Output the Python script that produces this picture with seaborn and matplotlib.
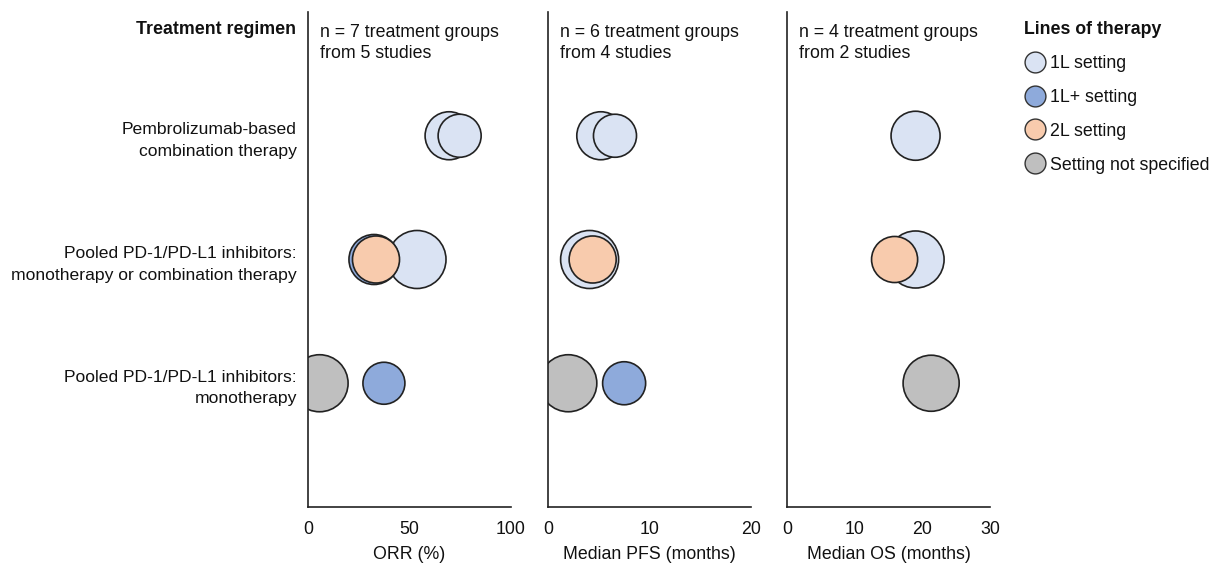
# Bubble chart: ORR, median PFS and median OS by treatment regimen,
# coloured by line of therapy, bubble area ~ group size.

import pandas as pd
import matplotlib.pyplot as plt
import seaborn as sns
from matplotlib.lines import Line2D

# data
# ---

regimens = [
    "Pembrolizumab-based\ncombination therapy",
    "Pooled PD-1/PD-L1 inhibitors:\nmonotherapy or combination therapy",
    "Pooled PD-1/PD-L1 inhibitors:\nmonotherapy",
]
settings = ["1L setting", "1L+ setting", "2L setting", "Setting not specified"]

# ORR (%) panel, listed in drawing order (later points sit on top)
orr_row = [0, 0, 1, 1, 1, 2, 2]
orr_setting = ["1L setting", "1L setting", "1L setting", "1L+ setting",
               "2L setting", "Setting not specified", "1L+ setting"]
orr_value = [69.5, 74.7, 53.7, 32.5, 33.5, 5.7, 37.4]
orr_patients = [230, 185, 336, 250, 221, 325, 176]

# median PFS (months) panel
pfs_row = [0, 0, 1, 1, 2, 2]
pfs_setting = ["1L setting", "1L setting", "1L setting", "2L setting",
               "Setting not specified", "1L+ setting"]
pfs_value = [5.2, 6.6, 4.1, 4.4, 2.0, 7.5]
pfs_patients = [230, 185, 336, 221, 325, 185]

# median OS (months) panel
os_row = [0, 1, 1, 2]
os_setting = ["1L setting", "1L setting", "2L setting", "Setting not specified"]
os_value = [19.0, 19.0, 15.9, 21.3]
os_patients = [240, 325, 212, 314]

panels = [
    (orr_row, orr_setting, orr_value, orr_patients, "ORR (%)", 100, [0, 50, 100],
     "n = 7 treatment groups\nfrom 5 studies"),
    (pfs_row, pfs_setting, pfs_value, pfs_patients, "Median PFS (months)", 20, [0, 10, 20],
     "n = 6 treatment groups\nfrom 4 studies"),
    (os_row, os_setting, os_value, os_patients, "Median OS (months)", 30, [0, 10, 20, 30],
     "n = 4 treatment groups\nfrom 2 studies"),
]

palette = {
    "1L setting": "#dae3f3",
    "1L+ setting": "#8eaadb",
    "2L setting": "#f8cbad",
    "Setting not specified": "#bfbfbf",
}
edge = "#222222"


# plot
# ---

sns.set_style("white")
plt.rcParams["font.family"] = ["Liberation Sans", "DejaVu Sans"]
plt.rcParams["text.color"] = "#111111"
plt.rcParams["axes.labelcolor"] = "#111111"
plt.rcParams["xtick.color"] = "#111111"
plt.rcParams["ytick.color"] = "#111111"
fs = 12.8

fig = plt.figure(figsize=(12.12, 5.63), dpi=100)

lefts = [308, 548, 787]
bottom, top = 507, 12
max_patients = 336
max_area = (58 * 0.72) ** 2

for i, (rows, sets, vals, pats, xlabel, xmax, xticks, note) in enumerate(panels):
    ax = fig.add_axes([lefts[i] / 1212, 1 - bottom / 563, 203 / 1212, (bottom - top) / 563])
    df = pd.DataFrame({"row": rows, "setting": sets, "value": vals, "patients": pats})
    sns.scatterplot(data=df, x="value", y="row", hue="setting", palette=palette,
                    size="patients", sizes=(0, max_area), size_norm=(0, max_patients),
                    edgecolor=edge, linewidth=1.2, alpha=1, legend=False, ax=ax)

    ax.set_xlim(0, xmax)
    ax.set_ylim(3, -1)
    ax.set_xticks(xticks)
    ax.set_yticks(range(len(regimens)))
    if i == 0:
        ax.set_yticklabels(regimens, linespacing=1.55, fontsize=12.6)
    else:
        ax.set_yticklabels([])
    ax.set_xlabel(xlabel, fontsize=fs, labelpad=6)
    ax.set_ylabel("")
    ax.tick_params(axis="x", length=0, labelsize=fs, pad=10)
    ax.tick_params(axis="y", direction="in", length=4, width=1.1, pad=8)
    for side in ["top", "right"]:
        ax.spines[side].set_visible(False)
    for side in ["left", "bottom"]:
        ax.spines[side].set_color("#222222")
        ax.spines[side].set_linewidth(1.2)

    ax.text(0.06, 0.976, note, transform=ax.transAxes, ha="left", va="top",
            fontsize=fs, linespacing=1.35)

fig.text(296 / 1212, 1 - 30 / 563, "Treatment regimen", ha="right", va="center",
         fontsize=fs, fontweight="bold")

handles = [Line2D([], [], marker="o", linestyle="", markersize=15,
                  markerfacecolor=palette[s], markeredgecolor="#333333",
                  markeredgewidth=1.0, label=s) for s in settings]
leg = fig.legend(handles=handles, title="Lines of therapy", loc="upper left",
                 bbox_to_anchor=(1024 / 1212, 1 - 21 / 563), frameon=False,
                 fontsize=fs, title_fontproperties={"weight": "bold", "size": fs},
                 labelspacing=0.95, handletextpad=0.25, handlelength=1.2,
                 alignment="left", borderaxespad=0, borderpad=0)

plt.savefig("out.png", dpi=100)
plt.close()
